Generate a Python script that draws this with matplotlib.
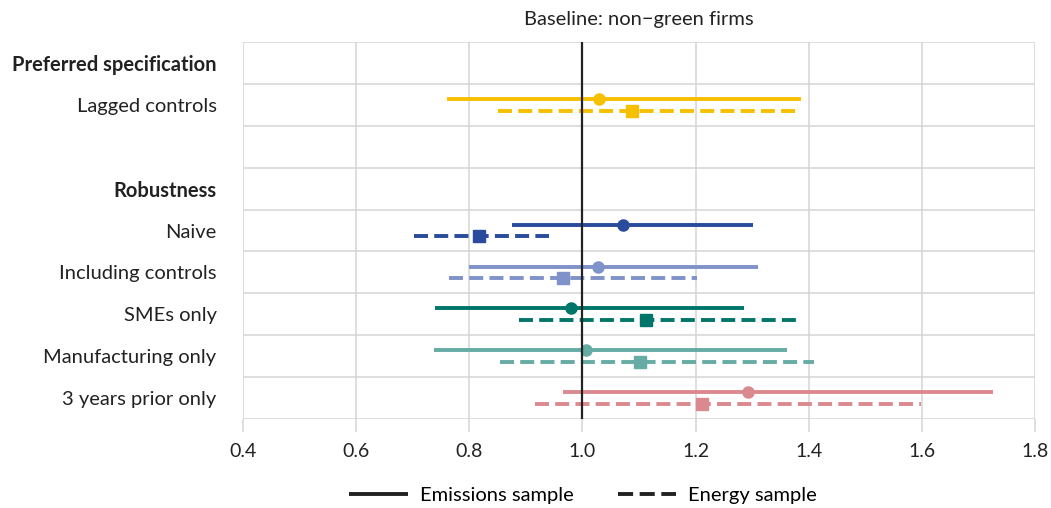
import matplotlib.pyplot as plt
import numpy as np
from matplotlib.lines import Line2D

plt.rcParams['font.family'] = ['Lato', 'DejaVu Sans']

# rows from top to bottom; '' is the empty spacer row
labels = ['Preferred specification', 'Lagged controls', '', 'Robustness', 'Naive',
          'Including controls', 'SMEs only', 'Manufacturing only', '3 years prior only']
bold_rows = ['Preferred specification', 'Robustness']

# rows that carry estimates
est_rows = ['Lagged controls', 'Naive', 'Including controls', 'SMEs only',
            'Manufacturing only', '3 years prior only']
colors = ['#F5C000', '#2A4B9B', '#7F92C9', '#00756A', '#66ACA5', '#DA8A8F']

# emissions sample: point estimate and interval
em_pt = [1.030, 1.071, 1.027, 0.980, 1.007, 1.292]
em_lo = [0.760, 0.875, 0.800, 0.740, 0.737, 0.966]
em_hi = [1.386, 1.301, 1.311, 1.286, 1.361, 1.726]

# energy sample
en_pt = [1.087, 0.817, 0.966, 1.112, 1.102, 1.211]
en_lo = [0.851, 0.703, 0.764, 0.887, 0.854, 0.917]
en_hi = [1.380, 0.941, 1.202, 1.384, 1.410, 1.598]

title = 'Baseline: non\u2212green firms'
xticks = [0.4, 0.6, 0.8, 1.0, 1.2, 1.4, 1.6, 1.8]

fig = plt.figure(figsize=(10.51, 5.08), dpi=100)
ax = fig.add_axes([0.2312, 0.1752, 0.7536, 0.7421])

grid_col = '#D4D4D4'
lw = 2.8
dash = (3.6, 1.6)
off = 0.14

for i, row in enumerate(est_rows):
    y = labels.index(row)
    c = colors[i]
    ax.plot([em_lo[i], em_hi[i]], [y - off, y - off], color=c, lw=lw,
            solid_capstyle='butt', zorder=3)
    ax.plot(em_pt[i], y - off, 'o', color=c, ms=8, zorder=4)
    ax.plot([en_lo[i], en_hi[i]], [y + off, y + off], color=c, lw=lw,
            dashes=dash, dash_capstyle='butt', zorder=3)
    ax.plot(en_pt[i], y + off, 's', color=c, ms=8.5, zorder=4)

ax.axvline(1.0, color='#222222', lw=1.6, zorder=5)

ax.set_xlim(0.4, 1.8)
ax.set_ylim(len(labels) - 0.5, -0.5)
ax.set_xticks(xticks)
ax.set_xticklabels([f'{t:.1f}' for t in xticks], fontsize=14, color='#222222')
ax.set_yticks(range(len(labels)))
ax.set_yticklabels(labels, fontsize=14.5, color='#222222')
for t in ax.get_yticklabels():
    if t.get_text() in bold_rows:
        t.set_fontweight('bold')
ax.set_yticks(np.arange(-0.5, len(labels), 1.0), minor=True)

ax.grid(True, axis='x', which='major', color=grid_col, lw=1.1, zorder=0)
ax.grid(True, axis='y', which='minor', color=grid_col, lw=1.1, zorder=0)
ax.tick_params(axis='y', which='both', length=0, pad=19)
ax.tick_params(axis='x', which='major', length=9, color=grid_col, width=1.1, pad=8)
ax.xaxis.get_major_ticks()[3].tick1line.set_color('#222222')
for s in ax.spines.values():
    s.set_visible(False)

ax.set_title(title, fontsize=14.5, color='#222222', pad=12)

handles = [Line2D([], [], color='#222222', lw=lw, solid_capstyle='butt'),
           Line2D([], [], color='#222222', lw=lw, dashes=(3.88, 1.69), dash_capstyle='butt')]
fig.legend(handles, ['Emissions sample', 'Energy sample'], loc='center',
           bbox_to_anchor=(0.555, 0.025), ncol=2, frameon=False, fontsize=14.5,
           handlelength=2.9, columnspacing=2.2, handletextpad=0.6)

fig.savefig('out.png', dpi=100)
